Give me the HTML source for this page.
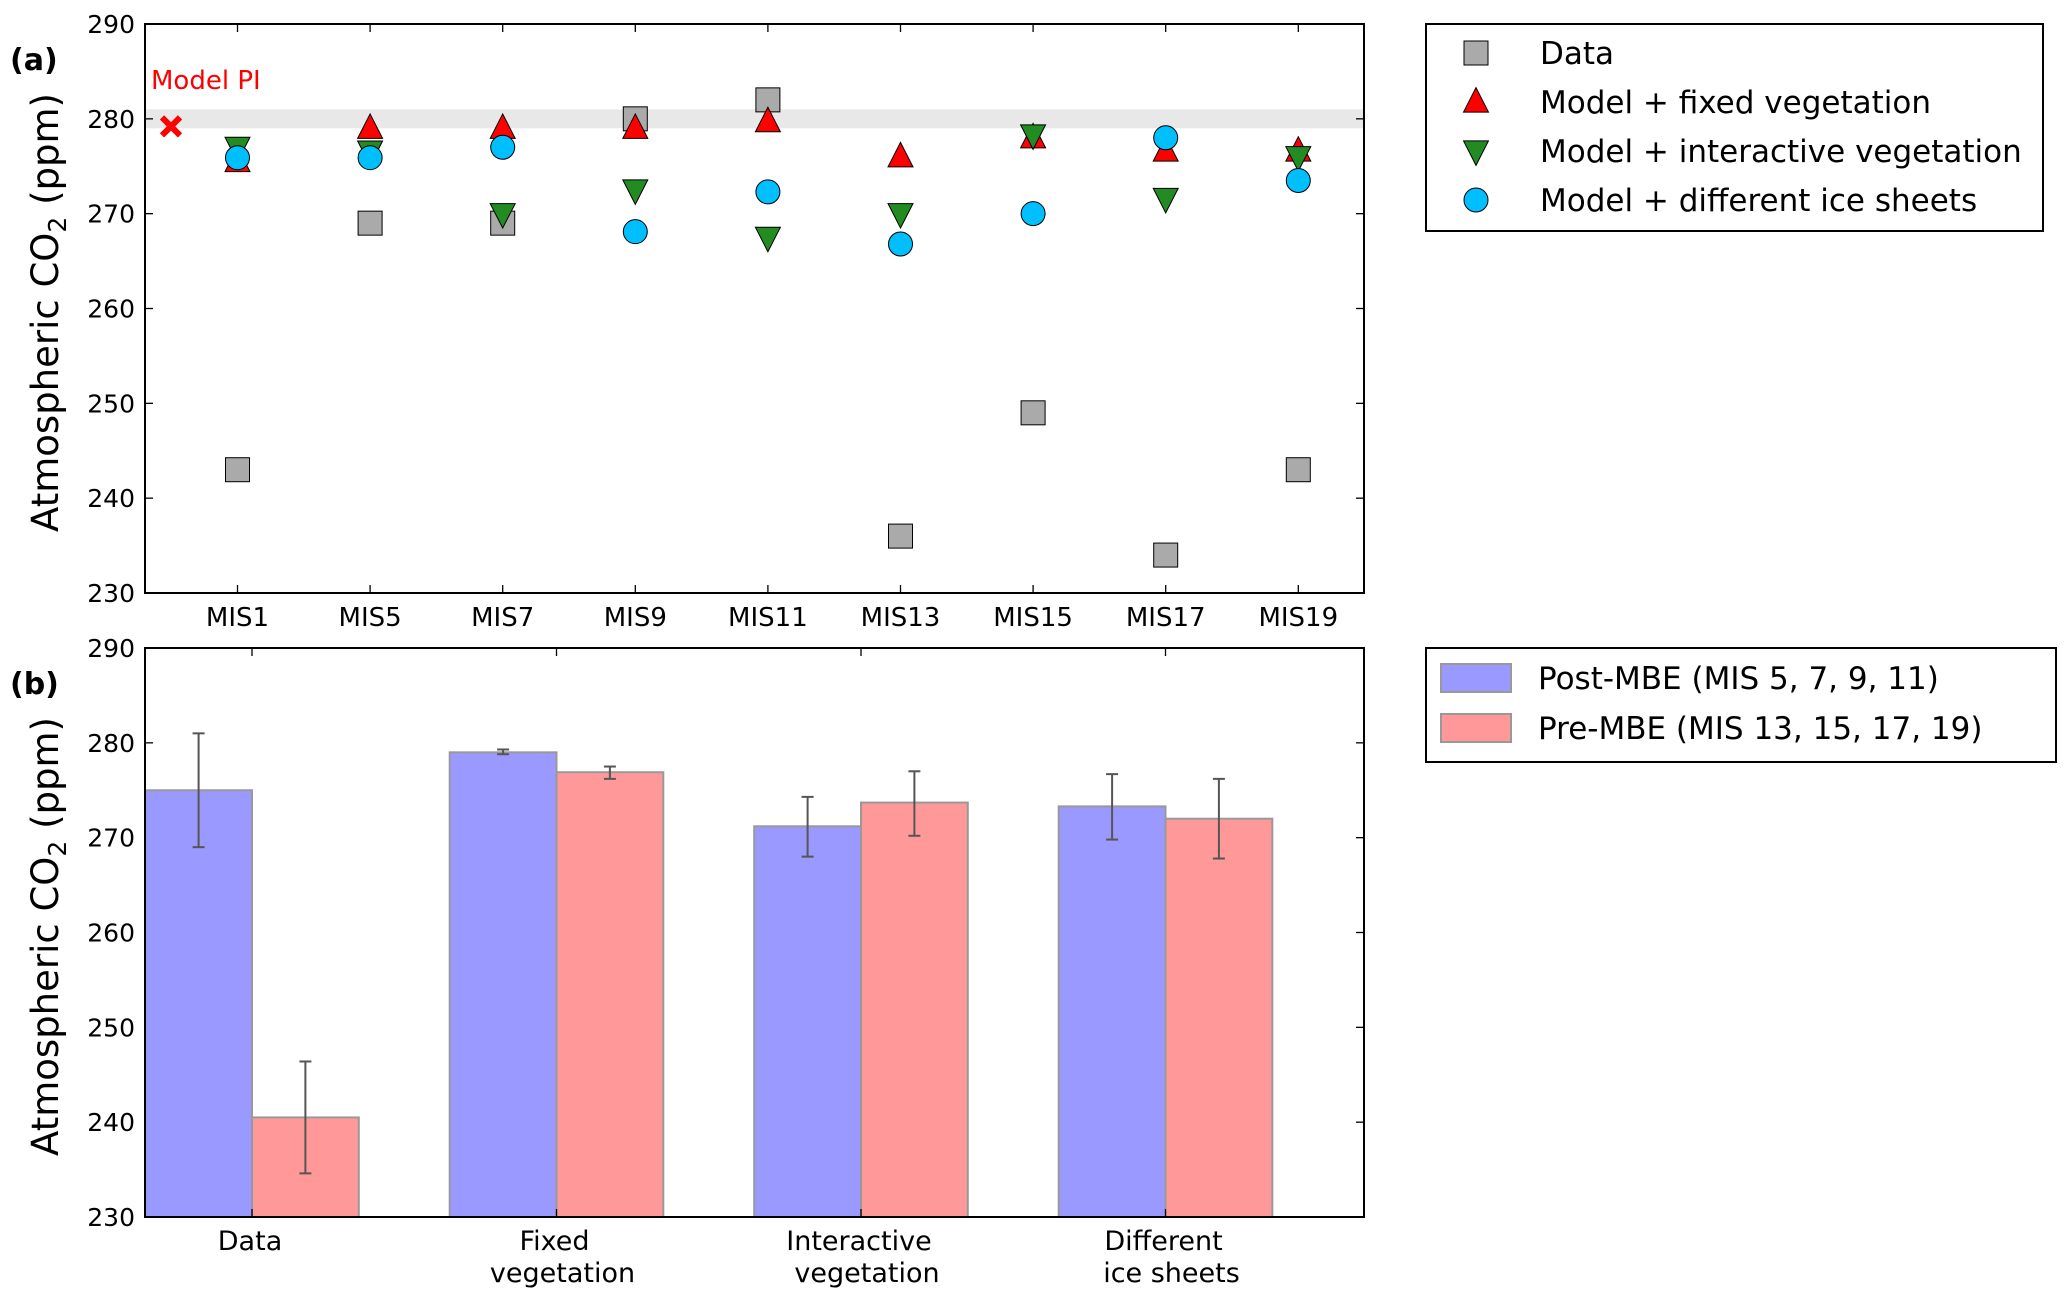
<!DOCTYPE html>
<html><head><meta charset="utf-8"><style>
body{margin:0;background:#fff}
svg{display:block;font-family:"DejaVu Sans","Liberation Sans",sans-serif}
</style></head><body>
<svg id="chart" width="2067" height="1292" viewBox="0 0 2067 1292"></svg>
<script>
const misCats=["MIS1","MIS5","MIS7","MIS9","MIS11","MIS13","MIS15","MIS17","MIS19"];
const dataVals=[243,269,269,280,282,236,249,234,243];
const fixedVals=[275.5,279,279,279,279.7,276,278,276.6,276.6];
const interVals=[277,276.6,270,272.5,267.5,270,278.3,271.6,276];
const iceVals=[275.9,275.9,277,268.1,272.3,266.8,270,278,273.5];
const modelPI=279.2;
const piBand=[279,281];
const yTicks=[230,240,250,260,270,280,290];
const barCats=[["Data"],["Fixed","vegetation"],["Interactive","vegetation"],["Different","ice sheets"]];
const postVals=[275,279,271.2,273.3];
const postLo=[269,278.8,268,269.8];
const postHi=[281,279.3,274.3,276.7];
const preVals=[240.5,276.9,273.7,272];
const preLo=[234.6,276.2,270.2,267.8];
const preHi=[246.4,277.5,277.0,276.2];

const NS="http://www.w3.org/2000/svg";
const svg=document.getElementById('chart');
function el(tag,attrs,parent,text){const e=document.createElementNS(NS,tag);for(const k in attrs)e.setAttribute(k,attrs[k]);if(text!==undefined)e.textContent=text;(parent||svg).appendChild(e);return e;}
const L=145,R=1364;
const A={top:24,bot:593};
const B={top:648,bot:1217};
function yA(v){return A.bot-(v-230)/60*(A.bot-A.top);}
function yB(v){return B.bot-(v-230)/60*(B.bot-B.top);}
function xA(i){return 237.5+132.6*i;}
function xB(i){return 252+304.5*i;}

const ga=el('g',{});


const band=el('rect',{x:L,y:yA(piBand[1]),width:R-L,height:yA(piBand[0])-yA(piBand[1]),fill:'#e8e8e8'},ga);


function ticksY(g,yf){
  yTicks.forEach(t=>{
    const y=yf(t);
    el('line',{x1:L,x2:L+8,y1:y,y2:y,stroke:'#000','stroke-width':1.3},g);
    el('line',{x1:R,x2:R-8,y1:y,y2:y,stroke:'#000','stroke-width':1.3},g);
    const tx=el('text',{x:L-10,y:y+9,'text-anchor':'end','font-size':25},g,String(t));
    
    
  });
}
ticksY(ga,yA);
misCats.forEach((c,i)=>{
  const x=xA(i);
  el('line',{x1:x,x2:x,y1:A.bot,y2:A.bot-8,stroke:'#000','stroke-width':1.3},ga);
  el('line',{x1:x,x2:x,y1:A.top,y2:A.top+8,stroke:'#000','stroke-width':1.3},ga);
  const t=el('text',{x:x,y:A.bot+33,'text-anchor':'middle','font-size':26},ga,c);
  
  
});
const pix=171,piy=yA(modelPI);
const px=el('path',{d:`M${pix-9},${piy-9}L${pix+9},${piy+9}M${pix+9},${piy-9}L${pix-9},${piy+9}`,stroke:'#ff0000','stroke-width':6},ga);


const pit=el('text',{x:151,y:89,fill:'#ff0000','font-size':26},ga,'Model PI');



function square(g,x,y,s){return el('rect',{x:x-s/2,y:y-s/2,width:s,height:s,fill:'#aaaaaa',stroke:'#000','stroke-width':1},g);}
function triUp(g,x,y,s,fill){return el('path',{d:`M${x},${y-s*0.6}L${x+s*0.52},${y+s*0.42}L${x-s*0.52},${y+s*0.42}Z`,fill:fill,stroke:'#000','stroke-width':1},g);}
function triDn(g,x,y,s,fill){return el('path',{d:`M${x},${y+s*0.6}L${x+s*0.52},${y-s*0.42}L${x-s*0.52},${y-s*0.42}Z`,fill:fill,stroke:'#000','stroke-width':1},g);}
function circ(g,x,y,r){return el('circle',{cx:x,cy:y,r:r,fill:'#00bfff',stroke:'#000','stroke-width':1},g);}
dataVals.forEach((v,i)=>{const m=square(ga,xA(i),yA(v),24);});
fixedVals.forEach((v,i)=>{const m=triUp(ga,xA(i),yA(v),24,'#ff0000');});
interVals.forEach((v,i)=>{const m=triDn(ga,xA(i),yA(v),24,'#228b22');});
iceVals.forEach((v,i)=>{const m=circ(ga,xA(i),yA(v),12);});
el('rect',{x:L,y:A.top,width:R-L,height:A.bot-A.top,fill:'none',stroke:'#000','stroke-width':2},ga);
const la=el('text',{x:10,y:70,'font-size':30,'font-weight':'bold'},ga,'(a)');


const ya=el('text',{transform:`translate(58,${(A.top+A.bot)/2+4}) rotate(-90)`,'text-anchor':'middle','font-size':37},ga);


ya.innerHTML='Atmospheric CO<tspan font-size="25" dy="8">2</tspan><tspan dy="-8"> (ppm)</tspan>';

const lga=el('g',{});


el('rect',{x:1426,y:24,width:617,height:207,fill:'#fff',stroke:'#000','stroke-width':2},lga);
const legA=[['Data','sq'],['Model + fixed vegetation','up'],['Model + interactive vegetation','dn'],['Model + different ice sheets','ci']];
legA.forEach((d,i)=>{
  const y=53+i*49, x=1476;
  if(d[1]==='sq')square(lga,x,y,24);
  if(d[1]==='up')triUp(lga,x,y,24,'#ff0000');
  if(d[1]==='dn')triDn(lga,x,y,24,'#228b22');
  if(d[1]==='ci')circ(lga,x,y,12);
  const t=el('text',{x:1540,y:y+11,'font-size':31},lga,d[0]);
  
  
});

const gb=el('g',{});


ticksY(gb,yB);
const bw=106.8;
function errbar(g,x,lo,hi){
  el('line',{x1:x,x2:x,y1:yB(lo),y2:yB(hi),stroke:'#555','stroke-width':2},g);
  el('line',{x1:x-6,x2:x+6,y1:yB(lo),y2:yB(lo),stroke:'#555','stroke-width':2},g);
  el('line',{x1:x-6,x2:x+6,y1:yB(hi),y2:yB(hi),stroke:'#555','stroke-width':2},g);
}
barCats.forEach((c,i)=>{
  const cx=xB(i);
  const b1=el('rect',{x:cx-bw,y:yB(postVals[i]),width:bw,height:B.bot-yB(postVals[i]),fill:'#9999ff',stroke:'#999','stroke-width':2},gb);
  
  
  const b2=el('rect',{x:cx,y:yB(preVals[i]),width:bw,height:B.bot-yB(preVals[i]),fill:'#ff9999',stroke:'#999','stroke-width':2},gb);
  
  
  el('line',{x1:cx,x2:cx,y1:B.bot,y2:B.bot-8,stroke:'#000','stroke-width':1.3},gb);
  el('line',{x1:cx,x2:cx,y1:B.top,y2:B.top+8,stroke:'#000','stroke-width':1.3},gb);
  c.forEach((s,j)=>{
    const t=el('text',{x:cx+(j===1?6:-2),y:B.bot+33+j*32,'text-anchor':'middle','font-size':27},gb,s);
    
    
  });
});
barCats.forEach((c,i)=>{
  const cx=xB(i);
  errbar(gb,cx-bw/2,postLo[i],postHi[i]);
  errbar(gb,cx+bw/2,preLo[i],preHi[i]);
});
el('rect',{x:L,y:B.top,width:R-L,height:B.bot-B.top,fill:'none',stroke:'#000','stroke-width':2},gb);
const lb=el('text',{x:10,y:694,'font-size':30,'font-weight':'bold'},gb,'(b)');


const yb=el('text',{transform:`translate(58,${(B.top+B.bot)/2+4}) rotate(-90)`,'text-anchor':'middle','font-size':37},gb);


yb.innerHTML='Atmospheric CO<tspan font-size="25" dy="8">2</tspan><tspan dy="-8"> (ppm)</tspan>';

const lgb=el('g',{});


el('rect',{x:1426,y:648,width:630,height:114,fill:'#fff',stroke:'#000','stroke-width':2},lgb);
[['Post-MBE (MIS 5, 7, 9, 11)','#9999ff'],['Pre-MBE (MIS 13, 15, 17, 19)','#ff9999']].forEach((d,i)=>{
  const y=678+i*50;
  el('rect',{x:1441,y:y-14,width:70,height:28,fill:d[1],stroke:'#999','stroke-width':2},lgb);
  const t=el('text',{x:1538,y:y+11,'font-size':31},lgb,d[0]);
  
  
});
</script>
</body></html>
